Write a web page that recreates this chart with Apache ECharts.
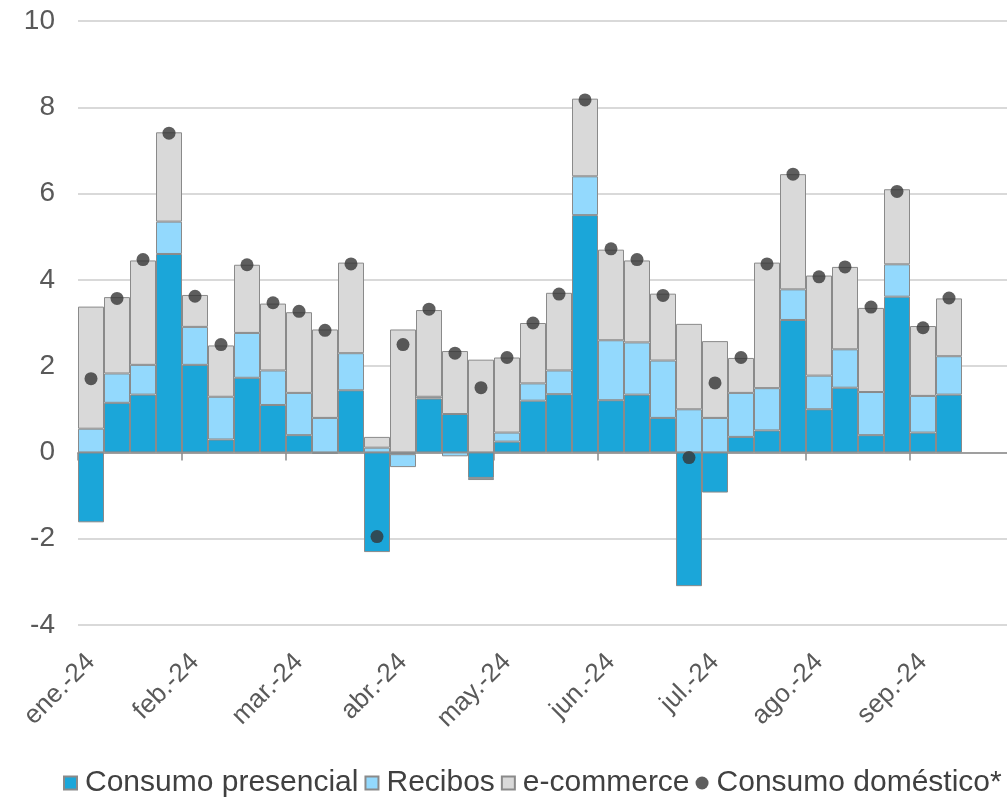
<!DOCTYPE html>
<html>
<head>
<meta charset="utf-8">
<script src="https://cdn.jsdelivr.net/npm/echarts@6/dist/echarts.min.js"></script>
<style>
html,body{margin:0;padding:0;background:#fff;}
#chart{width:1007px;height:799px;}
</style>
</head>
<body>
<div id="chart"></div>
<script>
// Weekly categories (2 trailing empty slots in the original axis)
const weeks = ['S01','S02','S03','S04','S05','S06','S07','S08','S09','S10','S11','S12',
  'S13','S14','S15','S16','S17','S18','S19','S20','S21','S22','S23','S24',
  'S25','S26','S27','S28','S29','S30','S31','S32','S33','S34','S35','S36'];
const monthLabels = ['ene.-24','feb.-24','mar.-24','abr.-24','may.-24','jun.-24','jul.-24','ago.-24','sep.-24'];

const presencial = [-1.62,1.15,1.34,4.60,2.03,0.30,1.73,1.10,0.40,-0.03,1.44,-2.31,
  -0.04,1.25,0.89,-0.59,0.25,1.20,1.35,5.50,1.21,1.34,0.80,-3.10,
  -0.93,0.36,0.51,3.07,1.00,1.50,0.40,3.61,0.46,1.34];
const recibos = [0.55,0.68,0.69,0.75,0.88,0.99,1.04,0.80,0.98,0.80,0.86,0.11,
  -0.30,0.04,-0.09,-0.05,0.21,0.40,0.55,0.90,1.39,1.21,1.33,1.00,
  0.80,1.02,0.98,0.71,0.78,0.89,1.00,0.75,0.85,0.89];
const ecommerce = [2.83,1.77,2.42,2.07,0.74,1.19,1.58,1.55,1.87,2.05,2.10,0.25,
  2.85,2.01,1.46,2.15,1.74,1.40,1.80,1.80,2.10,1.90,1.55,1.98,
  1.78,0.81,2.91,2.67,2.32,1.91,1.95,1.74,1.62,1.34];
const domestico = [1.71,3.57,4.47,7.40,3.62,2.50,4.35,3.47,3.27,2.83,4.37,-1.95,
  2.50,3.32,2.30,1.50,2.20,3.00,3.67,8.17,4.72,4.47,3.64,-0.12,
  1.61,2.20,4.37,6.45,4.07,4.30,3.37,6.05,2.89,3.58];

const yTicks = {min:-4, max:10, interval:2};

const chart = echarts.init(document.getElementById('chart'), null, {renderer:'canvas'});
const border = {borderColor:'#8a8a8a', borderWidth:1};
chart.setOption({
  animation:false,
  textStyle:{fontFamily:'"Liberation Sans", Arial, sans-serif'},
  grid:{left:78, right:-7, top:21, bottom:174, containLabel:false, outerBoundsMode:'none'},
  legend:{
    left:58, bottom:-4,
    itemWidth:13, itemHeight:13, itemGap:6,
    textStyle:{fontSize:30, color:'#404040', fontFamily:'"Liberation Sans", Arial, sans-serif', padding:[0,0,0,3]},
    data:[
      {name:'Consumo presencial', icon:'rect'},
      {name:'Recibos', icon:'rect'},
      {name:'e-commerce', icon:'rect'},
      {name:'Consumo doméstico*', icon:'circle'}
    ]
  },
  xAxis:[
    {
      type:'category', data:weeks, position:'bottom',
      axisLine:{show:false, onZero:false},
      axisTick:{show:false},
      splitLine:{show:false},
      axisLabel:{
        interval:3, rotate:45, margin:33, fontSize:26, color:'#595959',
        formatter:function(v, i){ return i % 4 === 0 ? (monthLabels[i/4] || '') : ''; }
      }
    },
    {
      type:'category', data:weeks, position:'top',
      axisLine:{show:true, onZero:true, lineStyle:{color:'#8c8c8c', width:1.5}},
      axisTick:{show:true, inside:true, interval:3, length:8, lineStyle:{color:'#8c8c8c', width:1.5}},
      axisLabel:{show:false},
      splitLine:{show:false}
    }
  ],
  yAxis:{
    type:'value', min:yTicks.min, max:yTicks.max, interval:yTicks.interval,
    axisLine:{show:false}, axisTick:{show:false},
    axisLabel:{fontSize:28, color:'#595959', margin:23},
    splitLine:{lineStyle:{color:'#d9d9d9', width:2}}
  },
  series:[
    {name:'Consumo presencial', type:'bar', stack:'t', barCategoryGap:'0%', data:presencial,
      itemStyle:Object.assign({color:'#1ba6d9'}, border)},
    {name:'Recibos', type:'bar', stack:'t', barCategoryGap:'0%', data:recibos,
      itemStyle:Object.assign({color:'#93d9fd'}, border)},
    {name:'e-commerce', type:'bar', stack:'t', barCategoryGap:'0%', data:ecommerce,
      itemStyle:Object.assign({color:'#d9d9d9'}, border)},
    {name:'Consumo doméstico*', type:'scatter', data:domestico, symbol:'circle', symbolSize:13,
      itemStyle:{color:'#363636'}, z:5}
  ]
});
</script>
</body>
</html>
